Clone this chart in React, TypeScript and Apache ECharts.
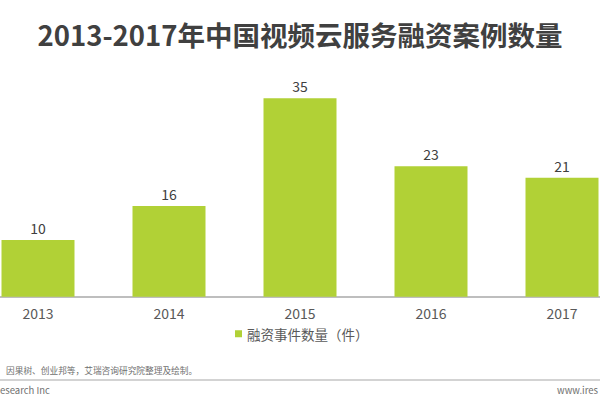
import React, { useEffect, useRef } from "react";
import * as echarts from "echarts";

const title = "2013-2017年中国视频云服务融资案例数量";
const categories = ["2013", "2014", "2015", "2016", "2017"];
const seriesName = "融资事件数量（件）";
const values = [10, 16, 35, 23, 21];
const sourceText = "因果树、创业邦等，艾瑞咨询研究院整理及绘制。";
const footerLeft = "esearch Inc";
const footerRight = "www.ires";

const FONT = "'Noto Sans CJK SC', 'Noto Sans', sans-serif";
const GREEN = "#b1d136";

export default function App() {
  const ref = useRef<HTMLDivElement>(null);
  useEffect(() => {
    if (!ref.current) return;
    const chart = echarts.init(ref.current, undefined, { renderer: "svg" });
    chart.setOption({
      animation: false,
      backgroundColor: "#ffffff",
      textStyle: { fontFamily: FONT },
      title: {
        text: title,
        left: "center",
        top: 15,
        textStyle: { fontSize: 27.5, fontWeight: "bold", color: "#404040", fontFamily: FONT },
      },
      grid: {
        left: -27.5,
        right: -27.5,
        top: 70,
        bottom: 103.3,
        containLabel: false,
        outerBoundsMode: "none",
      },
      xAxis: {
        type: "category",
        data: categories,
        axisLine: { show: true, lineStyle: { color: "#a8a8a8", width: 1.5 } },
        axisTick: { show: false },
        axisLabel: { fontSize: 14, color: "#595959", margin: 9, fontFamily: FONT },
      },
      yAxis: {
        type: "value",
        min: 0,
        max: 40,
        show: false,
        splitLine: { show: false },
      },
      legend: {
        left: 235,
        top: 327,
        padding: 0,
        itemWidth: 7,
        itemHeight: 7,
        icon: "rect",
        textStyle: { fontSize: 13.5, color: "#595959", fontFamily: FONT },
        data: [seriesName],
      },
      series: [
        {
          name: seriesName,
          type: "bar",
          data: values,
          barWidth: 73,
          itemStyle: { color: GREEN },
          label: {
            show: true,
            position: "top",
            distance: 5,
            fontSize: 14,
            color: "#404040",
            fontFamily: FONT,
          },
        },
      ],
      graphic: [
        {
          type: "text",
          left: 6,
          top: 366,
          style: { text: sourceText, fontSize: 8.7, fill: "#707070", fontFamily: FONT },
        },
        {
          type: "line",
          shape: { x1: 0, y1: 380, x2: 600, y2: 380 },
          style: { stroke: "#c4c4c4", lineWidth: 1.5 },
        },
        {
          type: "text",
          left: 0,
          top: 385,
          style: { text: footerLeft, fontSize: 9.5, fill: "#707070", fontFamily: FONT },
        },
        {
          type: "text",
          right: 2,
          top: 385,
          style: { text: footerRight, fontSize: 9.5, fill: "#707070", fontFamily: FONT },
        },
      ],
    });
    return () => chart.dispose();
  }, []);
  return (
    <div
      ref={ref}
      style={{ position: "fixed", left: 0, top: 0, width: 600, height: 400 }}
    />
  );
}
